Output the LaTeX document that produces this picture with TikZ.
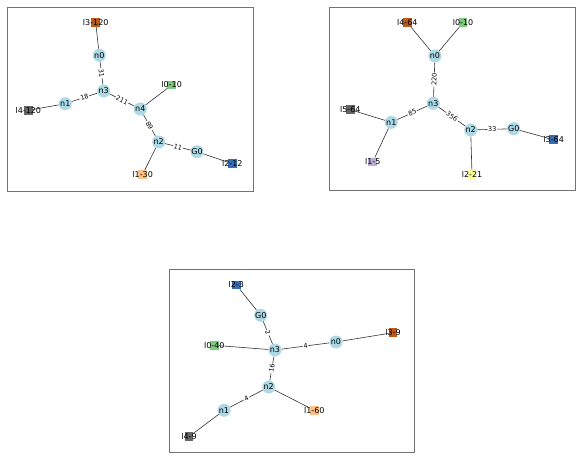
\documentclass[tikz,border=0pt]{standalone}
\usepackage{fontspec}
\setmainfont{DejaVu Sans}
\usepackage{tikz}
\definecolor{LightBlue}{HTML}{ADD8E6}
\definecolor{AccGreen}{HTML}{7FC97F}
\definecolor{AccLav}{HTML}{BEAED4}
\definecolor{AccOrange}{HTML}{FDC086}
\definecolor{AccYellow}{HTML}{FFFF99}
\definecolor{AccBlue}{HTML}{386CB0}
\definecolor{AccBrown}{HTML}{BF5B17}
\definecolor{AccGray}{HTML}{666666}

\begin{document}
\begin{tikzpicture}[
    x=1pt, y=-1pt,
    frame/.style={draw=black!55, line width=0.8pt},
    inst/.style={circle, fill=LightBlue, minimum size=13pt, inner sep=0pt,
                 font=\fontsize{8}{9}\selectfont},
    term/.style={rectangle, fill=#1, minimum size=8.5pt, inner sep=0pt},
    lab/.style={label={[font=\fontsize{8}{9}\selectfont, inner sep=0pt]center:#1}},
    link/.style={draw=black!80, line width=0.6pt},
    wt/.style={midway, sloped, fill=white, inner sep=0.8pt,
               font=\fontsize{6.5}{7}\selectfont}]

    \useasboundingbox (0,0) rectangle (582,460);

    % first graph
    \draw[frame] (7,7) rectangle (253,191);
    \node[inst] (a-n0) at (99.3,55.3) {n0};
    \node[inst] (a-n3) at (103.7,91) {n3};
    \node[inst] (a-n1) at (65.3,103.7) {n1};
    \node[inst] (a-n4) at (140.3,109) {n4};
    \node[inst] (a-n2) at (158.7,142) {n2};
    \node[inst] (a-g0) at (197,151.7) {G0};
    \node[term=AccBrown, lab=l3-120] (a-l3) at (95.7,22.7) {};
    \node[term=AccGray, lab=l4-120] (a-l4) at (28.3,110.3) {};
    \node[term=AccGreen, lab=l0-10] (a-l0) at (171.7,85) {};
    \node[term=AccBlue, lab=l2-12] (a-l2) at (232.3,163.7) {};
    \node[term=AccOrange, lab=l1-30] (a-l1) at (142.7,174.3) {};

    \draw[link] (a-l3) -- (a-n0);
    \draw[link] (a-n0) -- node[wt] {31} (a-n3);
    \draw[link] (a-l4) -- (a-n1);
    \draw[link] (a-n1) -- node[wt] {18} (a-n3);
    \draw[link] (a-n3) -- node[wt] {211} (a-n4);
    \draw[link] (a-n4) -- (a-l0);
    \draw[link] (a-n4) -- node[wt] {89} (a-n2);
    \draw[link] (a-n2) -- node[wt] {11} (a-g0);
    \draw[link] (a-g0) -- (a-l2);
    \draw[link] (a-n2) -- (a-l1);

    % second graph
    \draw[frame] (329,7.3) rectangle (575.7,190.7);
    \node[inst] (b-n0) at (435,56) {n0};
    \node[inst] (b-n3) at (433.3,103.3) {n3};
    \node[inst] (b-n1) at (391.3,122.3) {n1};
    \node[inst] (b-n2) at (470.7,130) {n2};
    \node[inst] (b-g0) at (513.7,128.7) {G0};
    \node[term=AccBrown, lab=l4-64] (b-l4) at (407.3,22.7) {};
    \node[term=AccGreen, lab=l0-10] (b-l0) at (463,22.7) {};
    \node[term=AccGray, lab=l5-64] (b-l5) at (350.3,109.7) {};
    \node[term=AccLav, lab=l1-5] (b-l1) at (372.7,162) {};
    \node[term=AccBlue, lab=l3-64] (b-l3) at (553.7,139.7) {};
    \node[term=AccYellow, lab=l2-21] (b-l2) at (472,174.3) {};

    \draw[link] (b-l4) -- (b-n0);
    \draw[link] (b-l0) -- (b-n0);
    \draw[link] (b-n0) -- node[wt] {220} (b-n3);
    \draw[link] (b-n1) -- node[wt] {85} (b-n3);
    \draw[link] (b-l5) -- (b-n1);
    \draw[link] (b-n1) -- (b-l1);
    \draw[link] (b-n3) -- node[wt] {356} (b-n2);
    \draw[link] (b-n2) -- node[wt] {33} (b-g0);
    \draw[link] (b-g0) -- (b-l3);
    \draw[link] (b-n2) -- (b-l2);

    % third graph
    \draw[frame] (169,269) rectangle (414.3,452.3);
    \node[inst] (c-g0) at (260.7,315.3) {G0};
    \node[inst] (c-n3) at (275,350) {n3};
    \node[inst] (c-n0) at (336,342) {n0};
    \node[inst] (c-n2) at (268.7,387) {n2};
    \node[inst] (c-n1) at (224,410.3) {n1};
    \node[term=AccBlue, lab=l2-3] (c-l2) at (236.3,285) {};
    \node[term=AccGreen, lab=l0-40] (c-l0) at (214.3,345.3) {};
    \node[term=AccBrown, lab=l3-9] (c-l3) at (393,332.7) {};
    \node[term=AccGray, lab=l4-9] (c-l4) at (189,436.7) {};
    \node[term=AccOrange, lab=l1-60] (c-l1) at (314.3,410.3) {};

    \draw[link] (c-l2) -- (c-g0);
    \draw[link] (c-g0) -- node[wt] {2} (c-n3);
    \draw[link] (c-l0) -- (c-n3);
    \draw[link] (c-n3) -- node[wt] {4} (c-n0);
    \draw[link] (c-n0) -- (c-l3);
    \draw[link] (c-n3) -- node[wt] {16} (c-n2);
    \draw[link] (c-n2) -- node[wt] {4} (c-n1);
    \draw[link] (c-n1) -- (c-l4);
    \draw[link] (c-n2) -- (c-l1);

\end{tikzpicture}
\end{document}
